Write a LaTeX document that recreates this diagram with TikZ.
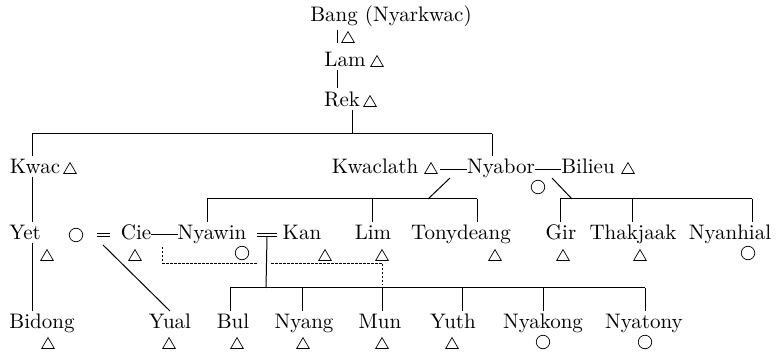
\documentclass[tikz,border=0pt]{standalone}
\usepackage{fontspec}
\newfontfamily\tenrm{lmroman10-regular.otf}
\usetikzlibrary{shapes.geometric}
\begin{document}
\begin{tikzpicture}[x=1pt,y=-1pt,
  txt/.style={font=\tenrm\fontsize{21}{24}\selectfont, inner sep=0pt, outer xsep=0pt, outer ysep=3pt, text height=15pt, text depth=0pt, anchor=base},
  male/.style={draw, regular polygon, regular polygon sides=3, minimum size=14.5pt, inner sep=0pt, line width=0.7pt, yshift=-1.8pt},
  female/.style={draw, circle, minimum size=13.5pt, inner sep=0pt, line width=0.7pt},
  kin/.style={line width=1pt},
  hint/.style={line width=0.8pt, dash pattern=on 2.5pt off 1.5pt},
  wed/.style={double distance=2.6pt, line width=0.8pt}]
\useasboundingbox (0,0) rectangle (779,352);

% generation 0-2
\node[txt] (bang) at (391,22) {Bang (Nyarkwac)};
\node[male] (bangs) at (348,37) {};
\node[txt] (lam) at (345,67) {Lam};
\node[male] (lams) at (377,61) {};
\node[txt] (rek) at (342,107) {Rek};
\node[male] (reks) at (370,101) {};

\coordinate (a0) at (337,30);
\coordinate (a1) at (337,43);
\coordinate (a2) at (337,70);
\coordinate (a3) at (337,88);
\draw[kin] (a0) -- (a1);
\draw[kin] (a2) -- (a3);

\coordinate (jT) at (352,134);
\coordinate (jL) at (32,134);
\coordinate (jR) at (492,134);
\draw[kin] (jT |- rek.south) -- (jT);
\draw[kin] (jL) -- (jR);

% generation 3
\node[txt] (kwac) at (35,174) {Kwac};
\node[male] (kwacs) at (70,168) {};
\node[txt] (kwaclath) at (375,174) {Kwaclath};
\node[male] (kwacls) at (431,168) {};
\node[txt] (nyabor) at (501,174) {Nyabor};
\node[female] (nyabors) at (538,187) {};
\node[txt] (bilieu) at (588,174) {Bilieu};
\node[male] (bilieus) at (628,168) {};

\draw[kin] (jL) -- (jL |- kwac.north);
\draw[kin] (jR) -- (jR |- nyabor.north);
\draw[kin] ([xshift=4pt]kwacls.east) -- (nyabor.west |- kwacls.east);
\draw[kin] (nyabor.east |- kwacls.east) -- (bilieu.west |- kwacls.east);

% generation 4
\node[txt] (yet) at (25,240) {Yet};
\node[male] (yets) at (47,255) {};
\node[female] (wife) at (76,235) {};
\node[txt] (cie) at (136,240) {Cie};
\node[male] (cies) at (135,255) {};
\node[txt] (nyawin) at (212,240) {Nyawin};
\node[female] (nyawins) at (242,253) {};
\node[txt] (kan) at (302,240) {Kan};
\node[male] (kans) at (325,255) {};
\node[txt] (lim) at (373,240) {Lim};
\node[male] (lims) at (382,255) {};
\node[txt] (tony) at (461,240) {Tonydeang};
\node[male] (tonys) at (495,255) {};
\node[txt] (gir) at (561,240) {Gir};
\node[male] (girs) at (563,255) {};
\node[txt] (thak) at (633,240) {Thakjaak};
\node[male] (thaks) at (640,255) {};
\node[txt] (nyanhial) at (730,240) {Nyanhial};
\node[female] (nyanhials) at (748,253) {};

\draw[kin] (jL |- kwac.south) -- (jL |- yet.north);

% Kwaclath + Nyabor children
\coordinate (m1) at (450,178);
\coordinate (b1) at (428,199);
\coordinate (bL1) at (207,199);
\coordinate (bL2) at (372,199);
\coordinate (bL3) at (477,199);
\draw[kin] (m1) -- (b1);
\draw[kin] (bL1) -- (bL3);
\draw[kin] (bL1) -- (bL1 |- nyawin.north);
\draw[kin] (bL2) -- (bL2 |- lim.north);
\draw[kin] (bL3) -- (bL3 |- tony.north);

% Bilieu + Nyabor children
\coordinate (m2) at (552,178);
\coordinate (b2) at (572,199);
\coordinate (bR1) at (560,199);
\coordinate (bR2) at (632,199);
\coordinate (bR3) at (752,199);
\draw[kin] (m2) -- (b2);
\draw[kin] (bR1) -- (bR3);
\draw[kin] (bR1) -- (bR1 |- gir.north);
\draw[kin] (bR2) -- (bR2 |- thak.north);
\draw[kin] (bR3) -- (bR3 |- nyanhial.north);

% marriages in generation 4
\draw[wed] ([xshift=14pt]wife.east) -- ([xshift=27pt]wife.east);
\draw[kin] (cie.east |- wife.east) -- (nyawin.west |- wife.east);
\coordinate (eq2) at (267,235);
\draw[wed] ([xshift=-10pt]eq2) -- ([xshift=10pt]eq2);

% generation 5
\node[txt] (bidong) at (42,329) {Bidong};
\node[male] (bidongs) at (48,343) {};
\node[txt] (yual) at (170,329) {Yual};
\node[male] (yuals) at (169,343) {};
\node[txt] (bul) at (233,329) {Bul};
\node[male] (buls) at (237,343) {};
\node[txt] (nyang) at (304,329) {Nyang};
\node[male] (nyangs) at (303,343) {};
\node[txt] (mun) at (380,329) {Mun};
\node[male] (muns) at (382,343) {};
\node[txt] (yuth) at (453,329) {Yuth};
\node[male] (yuths) at (452,343) {};
\node[txt] (nyakong) at (543,329) {Nyakong};
\node[female] (nyakongs) at (543,342) {};
\node[txt] (nyatony) at (644,329) {Nyatony};
\node[female] (nyatonys) at (645,342) {};

\draw[kin] (jL |- yet.south) -- (jL |- bidong.north);
\coordinate (wc) at (103,245);
\draw[kin] (wc) -- (yual.north);

\coordinate (cB1) at (230,288);
\coordinate (cB2) at (302,288);
\coordinate (cB3) at (382,288);
\coordinate (cB4) at (462,288);
\coordinate (cB5) at (543,288);
\coordinate (cB6) at (645,288);
\coordinate (cJ) at (266,288);
\draw[kin] ([yshift=-2pt]eq2) -- (cJ);
\draw[kin] (cB1) -- (cB6);
\foreach \c/\n in {cB1/bul,cB2/nyang,cB3/mun,cB4/yuth,cB5/nyakong,cB6/nyatony}
  \draw[kin] (\c) -- (\c |- \n.north);

% dotted putative links
\coordinate (d0) at (162,247);
\coordinate (d1) at (162,263);
\coordinate (d2) at (257,263);
\coordinate (d3) at (271,263);
\coordinate (d4) at (382,263);
\coordinate (d5) at (382,285);
\draw[hint] (d0) -- (d1) -- (d2);
\draw[hint] (d3) -- (d4) -- (d5);
\end{tikzpicture}
\end{document}
